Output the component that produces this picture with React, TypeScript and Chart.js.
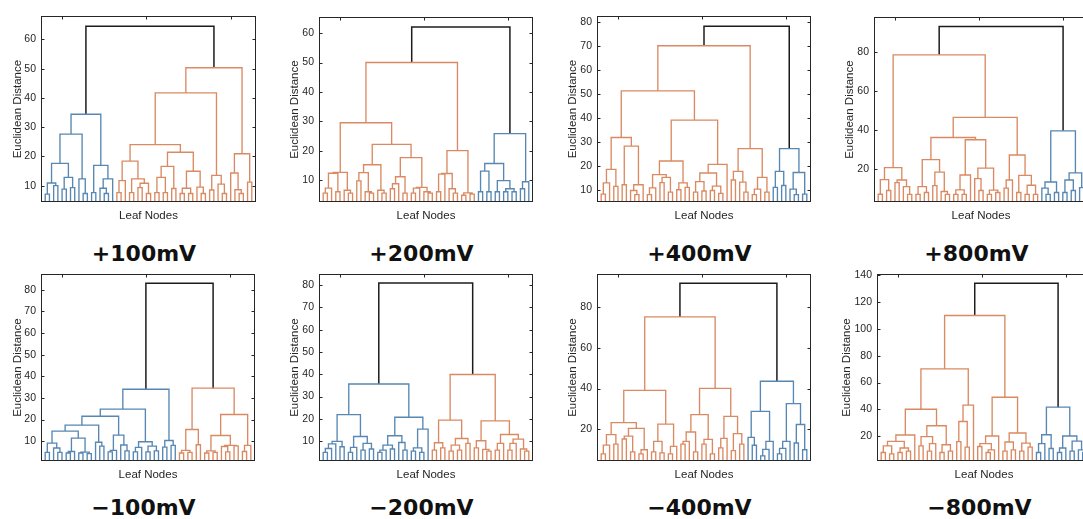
import React, { useEffect, useRef } from 'react';
import { Chart, registerables } from 'chart.js';
Chart.register(...registerables);

type Tree = number | [number, Tree, Tree];

// ---------- DATA: merge heights of each dendrogram (leaf = 0) ----------
// +100mV
const p100Blue: Tree = [34.4,
  [27.6,
    [17.6, [10.9, [7.1, 0, 0], [10, 0, 0]], [12.8, [8.8, 0, 0], [9.3, 0, 0]]],
    [12.3, 0, [7.3, 0, 0]]],
  [16.9, [7.6, 0, 0], [12.3, [9.1, 0, [7.3, 0, 0]], 0]]];
const p100Orange: Tree = [50.3,
  [41.7,
    [24.0,
      [18.4, [11.7, [7.6, 0, 0], 0], [12.3, [7.6, 0, 0], [10.8, [9.3, 0, 0], [7.3, 0, 0]]]],
      [21.4,
        [16.6, [12.8, [7.6, 0, 0], [7.6, 0, 0]], [9.0, 0, 0]],
        [14.9, [9.1, [7.3, 0, 0], [7.3, 0, 0]], [9.5, 0, [7.3, 0, 0]]]]],
    [13.5, [8.5, 0, 0], [10.5, 0, [7.3, 0, 0]]]],
  [20.9, [14.3, 0, [8.6, 0, [7.3, 0, 0]]], [11.2, 0, 0]]];
const p100Root = 64.5;

// +200mV
const p200OrangeA: Tree = [12.6, [12.3, [7.2, [5.5, 0, 0], 0], [6, 0, 0]], [6.5, 0, [5.5, 0, 0]]];
const p200OrangeB: Tree = [15.2, [12.5, [9.7, 0, 0], [6, 0, [5.5, 0, 0]]], [6.5, 0, [5.5, 0, 0]]];
const p200OrangeC: Tree = [17.6, [11.1, [8.7, [7, 0, 0], 0], [5.5, 0, 0]], [7.5, [7.2, [5.5, 0, 0], 0], [6, 0, [5.5, 0, 0]]]];
const p200OrangeD: Tree = [20, [12.2, [12, [6, 0, 0], 0], [7, 0, [5.5, 0, 0]]], [5.6, [4.8, 0, 0], [5.2, 0, 0]]];
const p200Orange: Tree = [50, [29.5, p200OrangeA, [22.1, p200OrangeB, p200OrangeC]], p200OrangeD];
const p200Blue: Tree = [25.8,
  [15.6, [13, [6, 0, 0], [6, 0, 0]], [9.8, [6, 0, 0], [7, [6, 0, 0], [6, 0, 0]]]],
  [9.4, [7, 0, 0], 0]];
const p200Root = 62.1;

// +400mV
const p400OrangeA: Tree = [31.8,
  [18.5, [12.9, [8.2, 0, 0], 0], [11.4, 0, 0]],
  [28.2, [12.1, 0, 0], [12.1, [9.7, 0, [8, 0, 0]], 0]]];
const p400OrangeB: Tree = [22.0,
  [16.3, [10.8, [8, 0, 0], 0], [15.2, [13, 0, 0], [9, 0, 0]]],
  [12.9, [10, 0, 0], [11, 0, 0]]];
const p400OrangeC: Tree = [20.6, [17.0, [13.4, [9, 0, 0], [9.5, 0, 0]], [11.5, [9.7, 0, 0], [8.5, 0, 0]]], 0];
const p400OrangeD: Tree = [27.2, [17.7, [14.1, 0, 0], [13.2, 0, [9, 0, 0]]], [15.2, [10.3, [8, 0, 0], 0], [9, 0, 0]]];
const p400Orange: Tree = [70.1, [51.3, p400OrangeA, [39.1, p400OrangeB, p400OrangeC]], p400OrangeD];
const p400Blue: Tree = [27.2, [17.7, [11, 0, 0], [11.8, 0, 0]], [17.2, [10.3, 0, [8, 0, 0]], [8.2, 0, 0]]];
const p400Root = 78.2;

// +800mV
const p800OrangeA: Tree = [20.8, [14.6, [7.1, 0, 0], [9, 0, 0]], [14.4, [13.1, 0, 0], [11, 0, [7, 0, 0]]]];
const p800OrangeB: Tree = [24.9, [11, [7, 0, 0], [8, 0, 0]], [18.5, [11.5, 0, 0], [8.5, 0, [7, 0, 0]]]];
const p800OrangeC: Tree = [35.1, [17, [9.3, [7, 0, 0], [7, 0, 0]], 0], [20.5, [15.1, 0, [9, 0, 0]], [9.2, [7, 0, 0], [8, 0, 0]]]];
const p800OrangeD: Tree = [27.3, [14.4, [10.2, 0, 0], 0], [16.8, [8, 0, 0], [11.7, [7, 0, 0], [7, 0, 0]]]];
const p800Orange: Tree = [78.8, p800OrangeA, [46.6, [36.3, p800OrangeB, p800OrangeC], p800OrangeD]];
const p800Blue: Tree = [39.7, [13.4, [10.2, 0, [7, 0, 0]], [8, 0, 0]], [18.1, [14.4, [8, 0, 0], [9, 0, 0]], [10.5, 0, 0]]];
const p800Root = 93.4;

// -100mV
const n100BlueA: Tree = [17.4,
  [14.6, [9.1, [4.8, 0, 0], [6.8, 0, [4.8, 0, 0]]], [11.4, [5.2, [4.5, 0, 0], 0], [4.9, [4.5, 0, 0], [4.2, 0, 0]]]],
  [9.5, 0, [7.7, 0, 0]]];
const n100BlueB: Tree = [12.8, [5.7, [5, 0, 0], 0], [8.2, 0, [5.5, 0, 0]]];
const n100BlueC: Tree = [9.7, [7.1, [5, 0, 0], 0], [7.7, [5, 0, 0], [5.5, 0, 0]]];
const n100Blue: Tree = [34.0, [24.8, [21.5, n100BlueA, n100BlueB], n100BlueC], [10.3, [7.2, 0, 0], [8, 0, 0]]];
const n100Orange: Tree = [34.5,
  [15.4, [5.7, [4.5, 0, 0], [4.8, 0, 0]], [8.3, 0, 0]],
  [22.3, [12.6, [5.5, [4.5, 0, 0], [4.8, 0, 0]], [8, [7.5, 0, [5, 0, 0]], [7.8, 0, 0]]], [8.0, [5.2, 0, 0], 0]]];
const n100Root = 83.1;

// -200mV
const n200BlueA: Tree = [21.9, [9.9, [8.8, [6.7, [5, 0, 0], 0], 0], [7.5, 0, 0]], [12.1, [7.2, [5, 0, 0], 0], [9, [6, 0, 0], [6.5, 0, 0]]]];
const n200BlueB: Tree = [20.7, [12.4, [8.2, [6, [5, 0, 0], 0], [6.5, 0, 0]], [9.4, 0, [6, 0, 0]]], [15.4, [7, [5.5, 0, 0], [5, 0, 0]], 0]];
const n200Blue: Tree = [35.6, n200BlueA, n200BlueB];
const n200OrangeA: Tree = [19.4, [9.3, [6, 0, 0], [7, 0, 0]], [11.2, [8.2, [5.5, 0, 0], [6, 0, 0]], [9, 0, 0]]];
const n200OrangeB: Tree = [19.1, [10.2, [7, 0, 0], [6.3, 0, [5.5, 0, 0]]], [13, [9, [6, 0, 0], 0], [10.9, [9, [6, 0, 0], 0], [6.5, 0, [5.5, 0, 0]]]]];
const n200Orange: Tree = [39.9, n200OrangeA, n200OrangeB];
const n200Root = 80.9;

// -400mV
const n400OrangeA: Tree = [23.3, [17.4, [12.3, [8, 0, 0], 0], [12.8, 0, 0]], [20.5, [16.7, [15.3, 0, 0], [9, 0, 0]], [10, [8, 0, 0], 0]]];
const n400OrangeB: Tree = [22.6, [14.1, [9, 0, 0], [8.5, 0, 0]], [11.7, [8, 0, 0], 0]];
const n400OrangeC: Tree = [27.2, [18.7, [14.1, [12.8, 0, 0], 0], [9, 0, 0]], [15.1, [12.8, 0, 0], [8, 0, 0]]];
const n400OrangeD: Tree = [26.4, [15.6, [10.9, 0, 0], 0], [17.9, [9.6, 0, 0], [12.8, 0, 0]]];
const n400Orange: Tree = [75.1, [39.1, n400OrangeA, n400OrangeB], [40.1, n400OrangeC, n400OrangeD]];
const n400Blue: Tree = [43.6,
  [28.8, [16.1, 0, [12.2, 0, 0]], [14.1, [10.2, [7, 0, 0], 0], 0]],
  [32.6, [14.1, [10.7, [8, 0, 0], 0], 0], [22.4, [13.3, 0, 0], [10, 0, 0]]]];
const n400Root = 91.6;

// -800mV
const n800OrangeA: Tree = [40.2,
  [21, [16.3, [12.9, [8, 0, 0], [7, 0, 0]], [11.4, [8, 0, 0], [9, 0, 0]]], 0],
  [27.9, [19.8, [12.9, 0, 0], [14.6, [9, 0, 0], 0]], [13.8, [8, 0, 0], [9, 0, 0]]]];
const n800OrangeB: Tree = [43.2, [31.1, [16.1, 0, 0], [12, 0, 0]], 0];
const n800OrangeC: Tree = [49.1,
  [20.3, [14.6, [12.5, 0, 0], [10, [8, 0, 0], 0]], 0],
  [22.5, [15.8, [9, 0, 0], [10, 0, 0]], [15, [9, 0, 0], [12, 0, 0]]]];
const n800Orange: Tree = [109.9, [70.2, n800OrangeA, n800OrangeB], n800OrangeC];
const n800Blue: Tree = [41.7, [21.2, [14.6, [8, 0, 0], 0], [11, 0, 0]], [20.3, [11.4, [8, 0, 0], 0], [16.5, [9, 0, 0], [10, 0, [8, 0, 0]]]]];
const n800Root = 133.8;

// tick labels
const ticks10to60 = [10, 20, 30, 40, 50, 60];
const ticks10to80 = [10, 20, 30, 40, 50, 60, 70, 80];
const ticks20to80 = [20, 40, 60, 80];
const ticks20to140 = [20, 40, 60, 80, 100, 120, 140];
const xTopTicks = [5, 25, 45];

const titles = ['+100mV', '+200mV', '+400mV', '+800mV', '\u2212100mV', '\u2212200mV', '\u2212400mV', '\u2212800mV'];

// ---------- styles ----------
const BLUE = '#5787b2';
const ORANGE = '#da8a62';
const BLACK = '#1c1c1c';
const AXIS = '#262626';
const FONT = '"Liberation Sans", Arial, sans-serif';

interface Panel {
  title: string;
  root: number;
  left: Tree;
  right: Tree;
  colors: [string, string];
  yMin: number;
  yMax: number;
  yTicks: number[];
}

const panels: Panel[] = [
  { title: titles[0], root: p100Root, left: p100Blue, right: p100Orange, colors: [BLUE, ORANGE], yMin: 4.4, yMax: 67.9, yTicks: ticks10to60 },
  { title: titles[1], root: p200Root, left: p200Orange, right: p200Blue, colors: [ORANGE, BLUE], yMin: 2.5, yMax: 65.4, yTicks: ticks10to60 },
  { title: titles[2], root: p400Root, left: p400Orange, right: p400Blue, colors: [ORANGE, BLUE], yMin: 4.9, yMax: 82.4, yTicks: ticks10to80 },
  { title: titles[3], root: p800Root, left: p800Orange, right: p800Blue, colors: [ORANGE, BLUE], yMin: 3.1, yMax: 98.1, yTicks: ticks20to80 },
  { title: titles[4], root: n100Root, left: n100Blue, right: n100Orange, colors: [BLUE, ORANGE], yMin: 0.8, yMax: 87.2, yTicks: ticks10to80 },
  { title: titles[5], root: n200Root, left: n200Blue, right: n200Orange, colors: [BLUE, ORANGE], yMin: 1.1, yMax: 84.8, yTicks: ticks10to80 },
  { title: titles[6], root: n400Root, left: n400Orange, right: n400Blue, colors: [ORANGE, BLUE], yMin: 4.5, yMax: 96, yTicks: ticks20to80 },
  { title: titles[7], root: n800Root, left: n800Orange, right: n800Blue, colors: [ORANGE, BLUE], yMin: 1.7, yMax: 140.5, yTicks: ticks20to140 },
];

// layout (plot box in page pixels; yt = distance from box to y-title centre)
const BOXES = [
  { l: 41, t: 15, r: 256, b: 202, yt: 23.5 },
  { l: 319, t: 16, r: 533, b: 202, yt: 24 },
  { l: 597, t: 15, r: 811, b: 202, yt: 24 },
  { l: 874, t: 16, r: 1088, b: 202, yt: 24 },
  { l: 41, t: 273, r: 255, b: 461, yt: 23.5 },
  { l: 319, t: 273, r: 533, b: 461, yt: 24 },
  { l: 597, t: 273, r: 811, b: 461, yt: 24 },
  { l: 877, t: 273, r: 1091, b: 461, yt: 30 },
];
const YW = 41, PT = 10, PR = 4, XH = 26;

interface Link { x1: number; y1: number; x2: number; y2: number; h: number; g: number }

function walk(node: Tree, st: { i: number }, g: number, links: Link[]): { x: number; h: number } {
  if (typeof node === 'number') { st.i += 1; return { x: st.i, h: node }; }
  const [h, a, b] = node;
  const A = walk(a, st, g, links);
  const B = walk(b, st, g, links);
  links.push({ x1: A.x, y1: A.h, x2: B.x, y2: B.h, h, g });
  return { x: (A.x + B.x) / 2, h };
}

function buildLinks(p: Panel) {
  const links: Link[] = [];
  const st = { i: 0 };
  const A = walk(p.left, st, 0, links);
  const B = walk(p.right, st, 1, links);
  links.push({ x1: A.x, y1: A.h, x2: B.x, y2: B.h, h: p.root, g: 2 });
  return { links, n: st.i };
}

const boxPlugin = {
  id: 'matlabBox',
  afterDraw(chart: any, _args: any, opts: any) {
    const { ctx, chartArea: a, scales } = chart;
    ctx.save();
    ctx.strokeStyle = AXIS;
    ctx.lineWidth = 1;
    const L = Math.round(a.left) + 0.5, R = Math.round(a.right) - 0.5;
    const T = Math.round(a.top) + 0.5, B = Math.round(a.bottom) - 0.5;
    ctx.strokeRect(L, T, R - L, B - T);
    ctx.beginPath();
    for (const v of opts.yTicks as number[]) {
      const y = Math.round(scales.y.getPixelForValue(v)) + 0.5;
      if (y < a.top + 1 || y > a.bottom - 1) continue;
      ctx.moveTo(L, y); ctx.lineTo(L + 3, y);
      ctx.moveTo(R, y); ctx.lineTo(R - 3, y);
    }
    for (const v of xTopTicks) {
      const x = Math.round(scales.x.getPixelForValue(v)) + 0.5;
      ctx.moveTo(x, T); ctx.lineTo(x, T + 3);
    }
    ctx.stroke();
    ctx.restore();
  },
};

function Dendrogram({ panel, box }: { panel: Panel; box: { l: number; t: number; r: number; b: number; yt: number } }) {
  const ref = useRef<HTMLCanvasElement>(null);
  const w = YW + (box.r - box.l) + PR;
  const h = PT + (box.b - box.t) + XH;
  useEffect(() => {
    if (!ref.current) return;
    const { links, n } = buildLinks(panel);
    const colors = [panel.colors[0], panel.colors[1], BLACK];
    const datasets = [0, 1, 2].map((g) => ({
      data: links.filter((l) => l.g === g).flatMap((l) => [
        { x: l.x1, y: l.y1 }, { x: l.x1, y: l.h }, { x: l.x2, y: l.h }, { x: l.x2, y: l.y2 }, { x: l.x2, y: null as any },
      ]),
      borderColor: colors[g],
      borderWidth: g === 2 ? 1.5 : 1.35,
      pointRadius: 0,
      tension: 0,
      spanGaps: false,
      fill: false,
    }));
    const titlePad = Math.max(0, YW - box.yt - 6.9);
    const chart = new Chart(ref.current, {
      type: 'line',
      data: { datasets } as any,
      options: {
        animation: false,
        responsive: false,
        events: [],
        layout: { padding: { left: 0, right: PR, top: PT, bottom: 0 } },
        plugins: { legend: { display: false }, tooltip: { enabled: false }, matlabBox: { yTicks: panel.yTicks } } as any,
        scales: {
          x: {
            type: 'linear', min: 0, max: n + 1,
            grid: { display: false, drawTicks: false }, border: { display: false },
            ticks: { display: false },
            title: { display: true, text: 'Leaf Nodes', color: AXIS, font: { family: FONT, size: 11.5 }, padding: { top: 0, bottom: 5 } },
            afterFit: (s: any) => { s.height = XH; },
          },
          y: {
            type: 'linear', min: panel.yMin, max: panel.yMax, bounds: 'data',
            grid: { display: false, drawTicks: false }, border: { display: false },
            ticks: { color: AXIS, font: { family: FONT, size: 10.5 }, padding: 5 },
            title: { display: true, text: 'Euclidean Distance', color: AXIS, font: { family: FONT, size: 11.5 }, padding: { top: titlePad, bottom: 0 } },
            afterBuildTicks: (s: any) => { s.ticks = panel.yTicks.map((v) => ({ value: v })); },
            afterFit: (s: any) => { s.width = YW; },
          },
        },
      } as any,
      plugins: [boxPlugin],
    });
    return () => chart.destroy();
  }, []);
  return (
    <canvas ref={ref} width={w} height={h}
      style={{ position: 'absolute', left: box.l - YW, top: box.t - PT, width: w, height: h }} />
  );
}

export default function App() {
  return (
    <div style={{ position: 'fixed', left: 0, top: 0, width: 1083, height: 519, overflow: 'hidden', background: '#fff' }}>
      {panels.map((p, i) => {
        const box = BOXES[i];
        const cx = (box.l + box.r) / 2 - 4.5;
        const top = i < 4 ? 243.4 : 497;
        return (
          <React.Fragment key={i}>
            <Dendrogram panel={p} box={box} />
            <div style={{
              position: 'absolute', left: cx - 100, width: 200, top, textAlign: 'center',
              font: 'bold 22px "DejaVu Sans"', lineHeight: '22px', color: '#111', whiteSpace: 'nowrap',
            }}>{p.title}</div>
          </React.Fragment>
        );
      })}
    </div>
  );
}
